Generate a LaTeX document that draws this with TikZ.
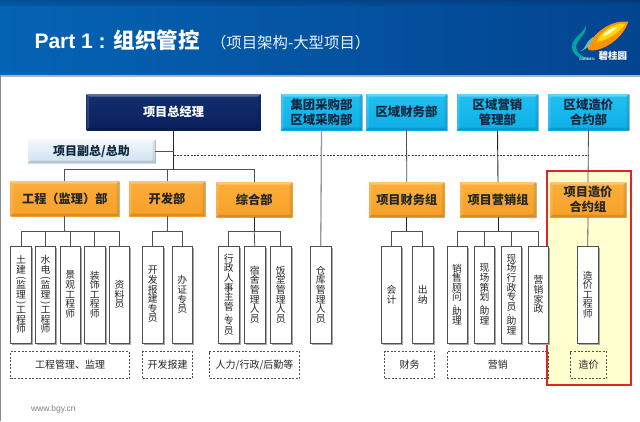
\documentclass[tikz,border=0pt]{standalone}
\usepackage{fontspec}
\usepackage{graphicx}
\setmainfont{Liberation Sans}
\newfontfamily\cjk{Noto Sans CJK SC}
\usetikzlibrary{shadows,calc}
\definecolor{navyA}{HTML}{12306F}
\definecolor{navyB}{HTML}{0A1F5C}
\definecolor{cyanA}{HTML}{22C0F0}
\definecolor{cyanB}{HTML}{0CAFE6}
\definecolor{orangeA}{HTML}{FBAE3A}
\definecolor{orangeB}{HTML}{F7A02A}
\definecolor{paleA}{HTML}{F2F7FB}
\definecolor{paleB}{HTML}{CFE1EE}
\definecolor{headL}{HTML}{0563B4}
\definecolor{headR}{HTML}{03448F}
\definecolor{inktext}{HTML}{10283F}
\definecolor{linegray}{HTML}{505050}
\definecolor{cellshade}{HTML}{A8A8A8}
\definecolor{hilite}{HTML}{FFFFCF}
\newcommand\bx[7]{\node[#1,anchor=north west,minimum width=#5pt,minimum height=#6pt] (#2) at (#3,#4) {#7};}
\newcommand\pn{\rotatebox[origin=c]{-90}{(}}
\newcommand\pc{\rotatebox[origin=c]{-90}{)}}
\newcommand\dun{{\fontsize{6.5}{6.5}\selectfont 、}}
\tikzset{
  x=1pt,y=-1pt,
  every node/.style={inner sep=0pt,outer sep=0pt,font=\cjk},
  bevel/.style={
    path picture={
      \fill[white,opacity=.3] (path picture bounding box.north west) -- (path picture bounding box.north east) -- ([xshift=-2.5pt,yshift=-2.5pt]path picture bounding box.north east) -- ([xshift=2.5pt,yshift=-2.5pt]path picture bounding box.north west) -- cycle;
      \fill[black,opacity=.12] (path picture bounding box.south west) -- (path picture bounding box.south east) -- ([xshift=-2.5pt,yshift=2.5pt]path picture bounding box.south east) -- ([xshift=2.5pt,yshift=2.5pt]path picture bounding box.south west) -- cycle;
      \fill[white,opacity=.12] (path picture bounding box.north west) -- (path picture bounding box.south west) -- ([xshift=2.5pt,yshift=2.5pt]path picture bounding box.south west) -- ([xshift=2.5pt,yshift=-2.5pt]path picture bounding box.north west) -- cycle;
      \fill[black,opacity=.08] (path picture bounding box.north east) -- (path picture bounding box.south east) -- ([xshift=-2.5pt,yshift=2.5pt]path picture bounding box.south east) -- ([xshift=-2.5pt,yshift=-2.5pt]path picture bounding box.north east) -- cycle;
    },
    general shadow={shadow xshift=.7pt,shadow yshift=-1.2pt,fill=black!28},
    align=center},
  gmbox/.style={bevel,top color=navyA,bottom color=navyB,text=white,font=\cjk\bfseries\fontsize{12.2}{14}\selectfont},
  regionbox/.style={bevel,top color=cyanA,bottom color=cyanB,text=inktext,font=\cjk\bfseries\fontsize{12.4}{15}\selectfont},
  vpbox/.style={bevel,top color=paleA,bottom color=paleB,text=inktext,font=\cjk\bfseries\fontsize{12}{14}\selectfont},
  deptbox/.style={bevel,top color=orangeA,bottom color=orangeB,text=black!85,font=\cjk\bfseries\fontsize{12.2}{15}\selectfont},
  rolebox/.style={fill=white,draw=linegray,line width=.85pt,align=center,text=black!85,
    general shadow={shadow xshift=1.8pt,shadow yshift=-1.8pt,fill=cellshade},
    font=\cjk\fontsize{9.8}{9.6}\selectfont},
  groupbox/.style={draw=linegray,line width=.75pt,dash pattern=on 2pt off 1.6pt,align=center,text=black!85,
    font=\cjk\fontsize{10}{12}\selectfont},
  conn/.style={draw=linegray,line width=.8pt},
  darkconn/.style={draw=black!85,line width=.9pt},
  thickconn/.style={draw=black!40,line width=1.3pt},
  dashconn/.style={draw=black!75,line width=.7pt,dash pattern=on 2pt off 1.4pt},
}
\begin{document}
\begin{tikzpicture}
\useasboundingbox (0,0) rectangle (640,421);
\fill[white] (0,0) rectangle (640,421);
% header
\fill[black!30] (0,74) rectangle (640,76.5);
\shade[left color=headL,right color=headR] (0,0) rectangle (640,74.5);
\shade[top color=black!35!headR,bottom color=headR,opacity=.35] (0,0) rectangle (640,5);
\fill[black!45] (0,75) rectangle (1.2,421);
\node[anchor=base west,text=white,font=\bfseries\fontsize{21}{24}\selectfont] (title) at (34.5,48.5) {Part 1 :};
\node[anchor=base west,text=white,font=\cjk\bfseries\fontsize{21.5}{24}\selectfont] (titlecn) at (113.5,48.5) {组织管控};
\node[anchor=base west,text=white!92!headL,font=\cjk\fontsize{15.4}{18}\selectfont] (subtitle) at (211,48.5) {（项目架构-大型项目）};
% logo
\fill[teal!70!cyan] (585,24.5) .. controls (587,32) and (571.5,37) .. (572,47) .. controls (572.5,55) and (581,60.5) .. (591,59.5) -- (591,58.5) .. controls (582,58) and (575.5,52) .. (576,46.5) .. controls (577,39) and (589,33) .. (585,24.5) -- cycle;
\fill[orange!85!yellow] (628.3,21.7) .. controls (612,20) and (597,30) .. (588,45) .. controls (586.5,48) and (588,50.5) .. (592,50.5) .. controls (605,50) and (623,38) .. (628.3,21.7) -- cycle;
\fill[yellow!75!orange] (625.5,23.5) .. controls (613,23) and (602,31) .. (596,42) .. controls (605,41) and (619,34) .. (625.5,23.5) -- cycle;
\fill[white!75!yellow] (617,27) .. controls (610,28) and (605,32) .. (602,36.5) .. controls (607,35.5) and (613,32) .. (617,27) -- cycle;
\fill[teal!55!white] (586,45) .. controls (588,41) and (590,39) .. (593,37) .. controls (593,42) and (589,48) .. (580,51.5) .. controls (583,49.5) and (585,48) .. (586,45) -- cycle;
\node[anchor=west,text=white,font=\cjk\bfseries\fontsize{9.5}{10}\selectfont] (logotext) at (598.5,56) {碧桂园};
\node[anchor=west,text=white!80!headR,font=\bfseries\fontsize{3.6}{4}\selectfont] (logogarden) at (579,59) {GARDEN};
% highlight frame
\fill[hilite] (547,171) rectangle (631,385);
\draw[red!85!black!85,line width=1.1pt] (547,171) rectangle (631,385);
% top row
\bx{gmbox}{gm}{86.5}{94}{174}{36}{项目总经理}
\bx{regionbox}{rg1}{281}{94}{81}{36}{集团采购部\\区域采购部}
\bx{regionbox}{rg2}{366}{94}{81}{36}{区域财务部}
\bx{regionbox}{rg3}{457}{94}{81}{36}{区域营销\\管理部}
\bx{regionbox}{rg4}{548}{94}{81}{36}{区域造价\\合约部}
\bx{vpbox}{vp}{28}{139}{127}{24}{项目副总/总助}
% departments
\bx{deptbox}{d1}{10.5}{181}{108.5}{35}{工程（监理）部}
\bx{deptbox}{d2}{129}{181}{76}{35}{开发部}
\bx{deptbox}{d3}{216}{182}{76.5}{35}{综合部}
\bx{deptbox}{d4}{369}{182}{75.5}{35}{项目财务组}
\bx{deptbox}{d5}{460}{182}{76}{35}{项目营销组}
\bx{deptbox}{d6}{550}{182}{76}{35}{项目造价\\合约组}
% roles
\bx{rolebox}{r1}{10.5}{246}{21}{97}{土\\建\\[-2pt]\pn\\[-2pt]监\\理\\[-2pt]\pc\\[-2pt]工\\程\\师}
\bx{rolebox}{r2}{35.5}{246}{20}{97}{水\\电\\[-2pt]\pn\\[-2pt]监\\理\\[-2pt]\pc\\[-2pt]工\\程\\师}
\bx{rolebox}{r3}{60}{246}{20.5}{97}{景\\观\\工\\程\\师}
\bx{rolebox}{r4}{84.5}{246}{20.5}{97}{装\\饰\\工\\程\\师}
\bx{rolebox}{r5}{109.5}{246}{20}{97}{资\\料\\员}
\bx{rolebox}{r6}{142.5}{246}{20.5}{97}{开\\发\\报\\建\\专\\员}
\bx{rolebox}{r7}{172}{246}{20.5}{97}{办\\证\\专\\员}
\bx{rolebox}{r8}{218.5}{246}{20.5}{97}{行\\政\\人\\事\\主\\管\\[-4pt]\dun\\[-1pt]专\\员}
\bx{rolebox}{r9}{244.5}{246}{20.5}{97}{宿\\舍\\管\\理\\人\\员}
\bx{rolebox}{r10}{270.5}{246}{20.5}{97}{饭\\堂\\管\\理\\人\\员}
\bx{rolebox}{r11}{310.5}{246}{20.5}{97}{仓\\库\\管\\理\\人\\员}
\bx{rolebox}{r12}{381.5}{246}{20}{97}{会\\计}
\bx{rolebox}{r13}{412.5}{246}{20.5}{97}{出\\纳}
\bx{rolebox}{r14}{447}{246}{20}{97}{销\\售\\顾\\问\\[-4pt]\dun\\[-1pt]助\\理}
\bx{rolebox}{r15}{474.5}{246}{20}{97}{现\\场\\策\\划\\[-4pt]\dun\\[-1pt]助\\理}
\bx{rolebox}{r16}{501.5}{246}{20}{97}{现\\场\\行\\政\\专\\员\\[-4pt]\dun\\[-1pt]助\\理}
\bx{rolebox}{r17}{528.5}{246}{20}{97}{营\\销\\家\\政}
\bx{rolebox}{r18}{577.5}{246}{20.5}{97}{造\\价\\工\\程\\师}
% groups
\bx{groupbox}{g1}{10.5}{351.5}{119}{27}{工程管理、监理}
\bx{groupbox}{g2}{142.5}{351.5}{50}{27}{开发报建}
\bx{groupbox}{g3}{209.5}{351.5}{90}{27}{人力/行政/后勤等}
\bx{groupbox}{g4}{384.5}{351.5}{50}{27}{财务}
\bx{groupbox}{g5}{447}{351.5}{101.5}{27}{营销}
\bx{groupbox}{g6}{570.5}{351.5}{36}{27}{造价}
\node[anchor=west,text=black!50,font=\fontsize{8.5}{9}\selectfont] (web) at (31,409) {www.bgy.cn};
% connectors, upper
\coordinate (busTop) at (gm.south |- 0,169);
\coordinate (vpJoin) at (gm.south |- vp.east);
\coordinate (dashStart) at (gm.south |- 0,155);
\coordinate (dashEnd) at (rg4.south |- 0,155);
\draw[darkconn] (gm.south) -- (busTop);
\draw[conn] (vp.east) -- (vpJoin);
\draw[dashconn] (dashStart) -- (dashEnd);
\draw[conn] (busTop) -| (d1.north);
\draw[conn] (busTop) -| (d2.north);
\draw[conn] (busTop) -| (d3.north);
\draw[thickconn] (rg1.south) -- (r11.north);
\draw[conn] (rg2.south) -- (d4.north);
\draw[darkconn] (rg3.south) -- (d5.north);
\draw[conn] (rg4.south) -- (d6.north);
% connectors, lower
\coordinate (bus1) at (d1.south |- 0,231);
\draw[conn] (d1.south) -- (bus1);
\draw[conn] (bus1) -| (r1.north); \draw[conn] (bus1) -| (r2.north); \draw[conn] (bus1) -| (r3.north);
\draw[conn] (bus1) -| (r4.north); \draw[conn] (bus1) -| (r5.north);
\coordinate (bus2) at (d2.south |- 0,231);
\draw[conn] (d2.south) -- (bus2);
\draw[conn] (bus2) -| (r6.north); \draw[conn] (bus2) -| (r7.north);
\coordinate (bus3) at (d3.south |- 0,231);
\draw[darkconn] (d3.south) -- (bus3);
\draw[conn] (bus3) -| (r8.north); \draw[conn] (bus3) -- (r9.north); \draw[conn] (bus3) -| (r10.north);
\coordinate (bus4) at (d4.south |- 0,231);
\draw[darkconn] (d4.south) -- (bus4);
\draw[conn] (bus4) -| (r12.north); \draw[conn] (bus4) -| (r13.north);
\coordinate (bus5) at (d5.south |- 0,231);
\draw[darkconn] (d5.south) -- (bus5);
\draw[conn] (bus5) -| (r14.north); \draw[conn] (bus5) -| (r15.north); \draw[conn] (bus5) -| (r16.north); \draw[conn] (bus5) -| (r17.north);
\draw[conn] (d6.south) -- (r18.north);
\end{tikzpicture}
\end{document}
